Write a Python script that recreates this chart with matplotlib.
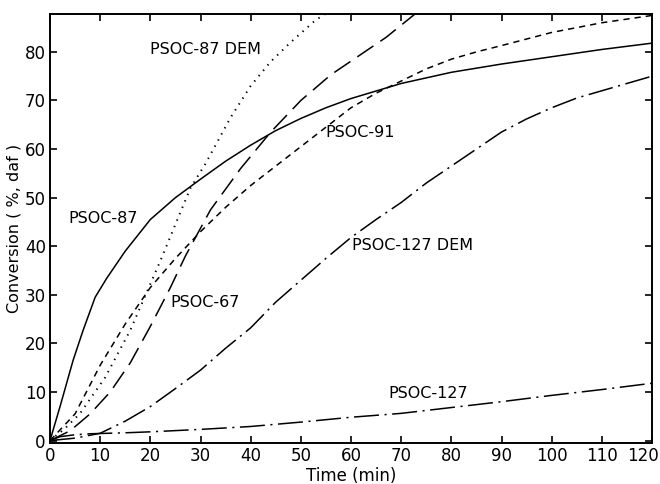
import matplotlib
matplotlib.use("Agg")
import matplotlib.pyplot as plt
import matplotlib.transforms as mtransforms
import numpy as np

plt.rcParams['font.family'] = ['DejaVu Sans']
plt.rcParams['lines.scale_dashes'] = False

# PSOC-87 (solid)
t_87 = [0, 2, 4.6, 6.6, 9, 11.3, 15, 20, 25, 30, 35, 40, 45, 50, 55, 60, 70, 80, 90, 100, 110, 120]
c_87 = [0, 7, 16.5, 22.7, 29.5, 33.4, 39, 45.5, 50, 53.8, 57.5, 60.8, 63.8, 66.3, 68.5, 70.4, 73.5, 75.8, 77.5, 79, 80.5, 81.8]

# PSOC-87 DEM (dotted)
t_87d = [0, 3, 6, 11, 16, 22, 28, 31, 36, 40, 44, 48, 53, 56]
c_87d = [0, 2.5, 5.6, 13, 22.7, 37, 52, 57, 66.5, 73, 78, 82, 86.6, 88.5]

# PSOC-67 (long dash)
t_67 = [0, 4, 8, 12, 16, 20, 24, 27, 32, 38, 44, 50, 56, 62, 67, 73]
c_67 = [0, 2, 5.5, 10, 16, 23.5, 31.5, 38, 47.5, 56, 63.5, 70, 75.3, 79.5, 83, 88]

# PSOC-91 (short dash)
t_91 = [0, 5, 10, 15, 20, 25, 30, 35, 40, 45, 50, 55, 60, 65, 70, 75, 80, 85, 90, 100, 110, 120]
c_91 = [0, 5.5, 15.5, 24, 31.5, 37.5, 43, 48, 52.5, 56.5, 60.5, 64.5, 68.5, 71.5, 74, 76.5, 78.5, 80, 81.3, 84, 86, 87.5]

# PSOC-127 DEM (dash-dot)
t_127d = [0, 5, 10, 15, 20, 25, 30, 35, 40, 45, 50, 55, 60, 65, 70, 75, 80, 85, 90, 95, 100, 105, 110, 115, 120]
c_127d = [0, 0.5, 1.5, 4, 7, 10.7, 14.5, 19, 23.2, 28.5, 33, 37.5, 41.8, 45.5, 49, 53, 56.5, 60, 63.5, 66.2, 68.5, 70.5, 72, 73.5, 75]

# PSOC-127 (dash-dot, low)
t_127 = [0, 2, 5, 8, 15, 20, 30, 40, 50, 60, 70, 80, 90, 100, 110, 120]
c_127 = [0, 0.8, 1.2, 1.4, 1.6, 1.8, 2.3, 2.9, 3.8, 4.8, 5.6, 6.8, 8, 9.3, 10.5, 11.8]

labels = ["PSOC-87 DEM", "PSOC-87", "PSOC-91", "PSOC-67", "PSOC-127 DEM", "PSOC-127"]
label_pos = [(20, 80.4), (3.6, 45.8), (54.8, 63.5), (24, 28.5), (60.2, 40.2), (67.4, 9.7)]

fig = plt.figure(figsize=(6.6, 4.84), dpi=100)
ax = fig.add_axes([50/660, 41/484, 602/660, 429/484])

lw = 1.1
ax.plot(t_87, c_87, color='black', lw=lw, linestyle='-')
ax.plot(t_87d, c_87d, color='black', lw=1.4, linestyle=(0, (1, 4)))
ax.plot(t_67, c_67, color='black', lw=lw, linestyle=(0, (14, 6)))
ax.plot(t_91, c_91, color='black', lw=lw, linestyle=(0, (4.5, 3.6)))
ax.plot(t_127d, c_127d, color='black', lw=lw, linestyle=(0, (18, 4, 1.5, 4)))
ax.plot(t_127, c_127, color='black', lw=lw, linestyle=(0, (18, 4, 1.5, 4)))

for lab, (x, y) in zip(labels, label_pos):
    ax.text(x, y, lab, fontsize=11.5, ha='left', va='center', color='black')

ax.set_xlim(0, 120)
ax.set_ylim(-0.5, 87.8)
ax.set_xticks(np.arange(0, 121, 10))
ax.set_yticks(np.arange(0, 81, 10))
ax.tick_params(direction='in', top=True, right=True, length=5, width=1.2, labelsize=12, pad=3)
for s in ax.spines.values():
    s.set_linewidth(1.4)
ax.set_xlabel("Time (min)", fontsize=12, labelpad=1)
ax.set_ylabel("Conversion ( %, daf )", fontsize=11.5, labelpad=2)

fig.canvas.draw()
last = ax.get_xticklabels()[-1]
last.set_transform(last.get_transform() + mtransforms.ScaledTranslation(-9/100, 0, fig.dpi_scale_trans))

fig.savefig("out.png", dpi=100)
